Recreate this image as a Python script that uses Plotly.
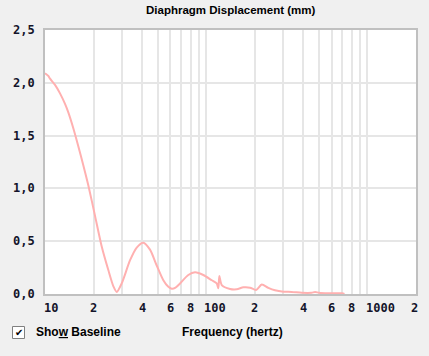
import numpy as np
import plotly.graph_objects as go

# Data
freq_hz = [10, 10.48, 10.74, 11.54, 12.39, 13.31, 13.95, 14.98, 16.09, 17.28, 18.56,
           20.43, 22.48, 24.7, 26.6, 27.85, 29.9, 33.7, 37.06, 40.7, 44.8, 49.3,
           54.2, 58.0, 61.1, 64.5, 68.8, 77.4, 85.2, 95.9, 108.2, 116.2, 118.9,
           120.6, 124.8, 140.5, 154.6, 170, 187, 203.7, 221, 242.8, 267, 300.8,
           339, 391, 450, 473, 500, 569.6, 695, 720]
displacement_mm = [2.09, 2.065, 2.04, 1.98, 1.90, 1.80, 1.72, 1.57, 1.40, 1.22, 1.03,
                   0.74, 0.45, 0.227, 0.07, 0.02, 0.10, 0.32, 0.44, 0.486, 0.42, 0.27,
                   0.13, 0.07, 0.05, 0.06, 0.10, 0.18, 0.205, 0.18, 0.13, 0.10, 0.054,
                   0.17, 0.085, 0.048, 0.045, 0.063, 0.06, 0.038, 0.09, 0.058, 0.035, 0.022,
                   0.02, 0.012, 0.012, 0.019, 0.012, 0.007, 0.007, 0.0]

x_grid = [10, 20, 30, 40, 50, 60, 70, 80, 90, 100, 200, 300, 400, 500, 600, 700, 800, 900, 1000, 2000]
x_labels = [(10, "10", "left", -3), (20, "2", "center", 0), (40, "4", "center", 0),
            (60, "6", "center", 0), (80, "8", "center", 0), (100, "100", "left", -4),
            (200, "2", "center", 0), (400, "4", "center", 0), (600, "6", "center", 0),
            (800, "8", "center", 0), (1000, "1000", "left", -3), (2000, "2", "center", -2)]
y_ticks = [0, 0.5, 1.0, 1.5, 2.0, 2.5]
y_labels = ["0,0", "0,5", "1,0", "1,5", "2,0", "2,5"]

W, H = 429, 356
L, R, T, B = 45, 13, 30, 62
PW, PH = W - L - R, H - T - B

def px_x(p):
    return (p - L) / PW

def px_y(p):
    return (H - B - p) / PH

TXT = "#14142a"
tick_font = dict(family="DejaVu Sans Mono", size=12, color=TXT, weight="bold")
label_font = dict(family="Liberation Sans", size=12, color="#000", weight="bold")

fig = go.Figure()
fig.add_trace(go.Scatter(x=freq_hz, y=displacement_mm, mode="lines",
                         line=dict(color="#ffb0b0", width=2, shape="spline", smoothing=0.7),
                         hoverinfo="skip", cliponaxis=True))

fig.update_layout(
    width=W, height=H,
    margin=dict(l=L, r=R, t=T, b=B, pad=0),
    paper_bgcolor="#f0f0f0", plot_bgcolor="#ffffff",
    showlegend=False,
    xaxis=dict(type="log", range=[1, np.log10(2000)], tickvals=x_grid,
               showticklabels=False, ticks="", showgrid=True,
               gridcolor="#e6e6e6", gridwidth=2, zeroline=False,
               showline=True, linecolor="#c0c0c0", linewidth=2, mirror=True),
    yaxis=dict(range=[0, 2.5], tickvals=y_ticks, showticklabels=False, ticks="",
               showgrid=True, gridcolor="#e6e6e6", gridwidth=2, zeroline=False,
               showline=True, linecolor="#c0c0c0", linewidth=2, mirror=True),
)

annotations = []
for f, txt, anchor, shift in x_labels:
    annotations.append(dict(x=np.log10(f), xref="x", y=px_y(308), yref="paper",
                            text=txt, showarrow=False, xanchor=anchor, yanchor="middle",
                            xshift=shift, font=tick_font))
for v, txt in zip(y_ticks, y_labels):
    annotations.append(dict(x=px_x(37), xref="paper", y=v, yref="y", text=txt,
                            showarrow=False, xanchor="right", yanchor="middle",
                            font=tick_font))
annotations.append(dict(x=px_x(230.5), xref="paper", y=px_y(10), yref="paper",
                        text="Diaphragm Displacement (mm)", showarrow=False,
                        xanchor="center", yanchor="middle",
                        font=dict(family="Liberation Sans", size=11.5, color="#000", weight="bold")))
annotations.append(dict(x=px_x(34), xref="paper", y=px_y(332), yref="paper",
                        text="Sho<u>w</u> Baseline", showarrow=False,
                        xanchor="left", yanchor="middle", font=label_font))
annotations.append(dict(x=px_x(180), xref="paper", y=px_y(332), yref="paper",
                        text="Frequency (hertz)", showarrow=False,
                        xanchor="left", yanchor="middle", font=label_font))
annotations.append(dict(x=px_x(18.5), xref="paper", y=px_y(332.5), yref="paper",
                        text="✔", showarrow=False, xanchor="center", yanchor="middle",
                        font=dict(family="DejaVu Sans", size=10, color="#000")))
fig.update_layout(annotations=annotations)

fig.add_shape(type="rect", xref="paper", yref="paper",
              x0=px_x(12.5), x1=px_x(24.5), y0=px_y(338.5), y1=px_y(326.5),
              line=dict(color="#808080", width=1), fillcolor="#ffffff", layer="below")

fig.write_html("out.html")
